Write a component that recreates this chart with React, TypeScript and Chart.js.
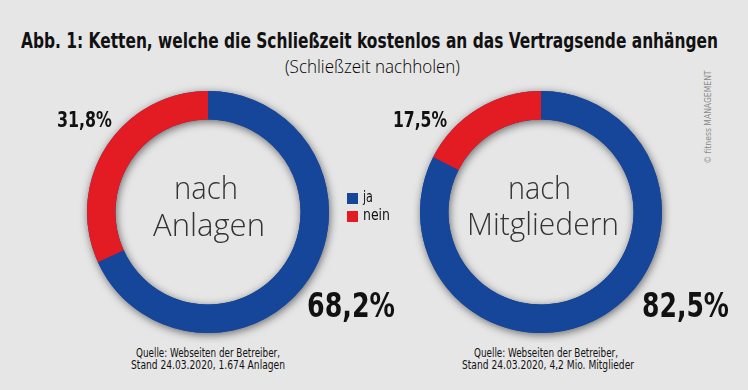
import React, { useEffect, useLayoutEffect, useRef } from "react";
import { Chart, registerables } from "chart.js";

Chart.register(...registerables);

// ---- data ----
const categories = ["ja", "nein"];
const anlagenValues = [68.2, 31.8];
const mitgliederValues = [82.5, 17.5];
const anlagenLabels = ["68,2%", "31,8%"];
const mitgliederLabels = ["82,5%", "17,5%"];
const centerAnlagen = ["nach", "Anlagen"];
const centerMitglieder = ["nach", "Mitgliedern"];
const titleText = "Abb. 1: Ketten, welche die Schließzeit kostenlos an das Vertragsende anhängen";
const subtitleText = "(Schließzeit nachholen)";
const sourceAnlagen = ["Quelle: Webseiten der Betreiber,", "Stand 24.03.2020, 1.674 Anlagen"];
const sourceMitglieder = ["Quelle: Webseiten der Betreiber,", "Stand 24.03.2020, 4,2 Mio. Mitglieder"];
const copyrightText = "© fitness MANAGEMENT";

const BLUE = "#15469a";
const RED = "#e31b23";
const colors = [BLUE, RED];
const BG = "#e6e6e6";
const COND = '"DejaVu Sans Condensed", "DejaVu Sans", sans-serif';
const LIGHT = '"Open Sans", sans-serif';

const ringShadow = {
  id: "ringShadow",
  beforeDatasetsDraw(chart: any) {
    const arc = chart.getDatasetMeta(0).data[0] as any;
    if (!arc) return;
    const { x, y, outerRadius, innerRadius } = arc;
    const ctx = chart.ctx;
    ctx.save();
    ctx.shadowColor = "rgba(0,0,0,0.55)";
    ctx.shadowBlur = 8;
    ctx.shadowOffsetX = 1;
    ctx.shadowOffsetY = 2;
    ctx.fillStyle = BLUE;
    ctx.beginPath();
    ctx.arc(x, y, outerRadius, 0, Math.PI * 2);
    ctx.arc(x, y, innerRadius, 0, Math.PI * 2, true);
    ctx.fill();
    ctx.restore();
  },
};

function Donut({ values, left, top }: { values: number[]; left: number; top: number }) {
  const ref = useRef<HTMLCanvasElement | null>(null);
  useEffect(() => {
    if (!ref.current) return;
    const chart = new Chart(ref.current, {
      type: "doughnut",
      data: {
        labels: categories,
        datasets: [
          {
            data: values,
            backgroundColor: colors,
            borderWidth: 0,
          },
        ],
      },
      options: {
        responsive: false,
        animation: false,
        devicePixelRatio: 1,
        cutout: "76.5%",
        layout: { padding: 10 },
        plugins: {
          legend: { display: false },
          tooltip: { enabled: false },
        },
        events: [],
      },
      plugins: [ringShadow],
    });
    return () => chart.destroy();
  }, [values]);
  return (
    <canvas
      ref={ref}
      width={262}
      height={262}
      style={{ position: "absolute", left, top, width: 262, height: 262 }}
    />
  );
}

type TxtProps = {
  x: number;
  baseline: number;
  size: number;
  w?: number;
  align?: "left" | "center" | "right";
  weight?: string | number;
  color?: string;
  family?: string;
  children: React.ReactNode;
};

function Txt({
  x,
  baseline,
  size,
  w,
  align = "left",
  weight = "normal",
  color = "#111",
  family = COND,
  children,
}: TxtProps) {
  const ref = useRef<HTMLSpanElement | null>(null);
  const factor = family === LIGHT ? 0.888 : 0.846;
  const top = baseline - factor * size;
  useLayoutEffect(() => {
    const el = ref.current;
    if (!el) return;
    el.style.transform = "none";
    const W = el.getBoundingClientRect().width;
    const s = w ? w / W : 1;
    const dw = W * s;
    const left = align === "center" ? x - dw / 2 : align === "right" ? x - dw : x;
    el.style.left = `${left}px`;
    el.style.transform = `scaleX(${s})`;
  });
  return (
    <span
      ref={ref}
      style={{
        position: "absolute",
        top,
        left: x,
        display: "inline-block",
        transformOrigin: "0 0",
        fontFamily: family,
        fontSize: size,
        lineHeight: `${size}px`,
        fontWeight: weight as any,
        color,
        whiteSpace: "nowrap",
      }}
    >
      {children}
    </span>
  );
}

export default function App() {
  return (
    <div
      style={{
        position: "absolute",
        left: 0,
        top: 0,
        width: 748,
        height: 390,
        background: BG,
        overflow: "hidden",
      }}
    >
      <Txt x={369} baseline={49} size={22} w={697} align="center" weight="bold">
        {titleText}
      </Txt>
      <Txt x={372} baseline={73} size={18} w={175} align="center" color="#000" family={LIGHT} weight={300}>
        {subtitleText}
      </Txt>

      <Donut values={anlagenValues} left={77} top={81} />
      <Donut values={mitgliederValues} left={410} top={81} />

      {/* center texts */}
      <Txt x={206} baseline={199} size={32} w={64} align="center" color="#333" family={LIGHT} weight={300}>
        {centerAnlagen[0]}
      </Txt>
      <Txt x={209} baseline={236} size={32} w={112} align="center" color="#333" family={LIGHT} weight={300}>
        {centerAnlagen[1]}
      </Txt>
      <Txt x={539} baseline={199} size={32} w={63} align="center" color="#333" family={LIGHT} weight={300}>
        {centerMitglieder[0]}
      </Txt>
      <Txt x={543} baseline={235} size={32} w={152} align="center" color="#333" family={LIGHT} weight={300}>
        {centerMitglieder[1]}
      </Txt>

      {/* percentages */}
      <Txt x={57} baseline={128} size={21} w={55} weight="bold">
        {anlagenLabels[1]}
      </Txt>
      <Txt x={307} baseline={317} size={33} w={88} weight="bold">
        {anlagenLabels[0]}
      </Txt>
      <Txt x={393} baseline={128} size={21} w={54} weight="bold">
        {mitgliederLabels[1]}
      </Txt>
      <Txt x={642} baseline={317} size={33} w={87} weight="bold">
        {mitgliederLabels[0]}
      </Txt>

      {/* legend */}
      <div style={{ position: "absolute", left: 347, top: 193, width: 11, height: 11, background: BLUE }} />
      <div style={{ position: "absolute", left: 347, top: 211, width: 11, height: 11, background: RED }} />
      <Txt x={363} baseline={203} size={15} w={10}>
        {categories[0]}
      </Txt>
      <Txt x={363} baseline={221} size={15} w={27}>
        {categories[1]}
      </Txt>

      {/* sources */}
      <Txt x={208} baseline={358} size={11.5} w={144} align="center">
        {sourceAnlagen[0]}
      </Txt>
      <Txt x={208} baseline={370} size={11.5} w={154} align="center">
        {sourceAnlagen[1]}
      </Txt>
      <Txt x={546} baseline={358} size={11.5} w={144} align="center">
        {sourceMitglieder[0]}
      </Txt>
      <Txt x={548} baseline={370} size={11.5} w={172} align="center">
        {sourceMitglieder[1]}
      </Txt>

      {/* copyright, rotated */}
      <div
        style={{
          position: "absolute",
          left: 708 - 60,
          top: 117 - 6,
          width: 120,
          height: 12,
          lineHeight: "12px",
          textAlign: "center",
          fontFamily: COND,
          fontSize: 8.5,
          color: "#8a8a8a",
          whiteSpace: "nowrap",
          transform: "rotate(-90deg)",
          transformOrigin: "50% 50%",
        }}
      >
        {copyrightText}
      </div>
    </div>
  );
}
